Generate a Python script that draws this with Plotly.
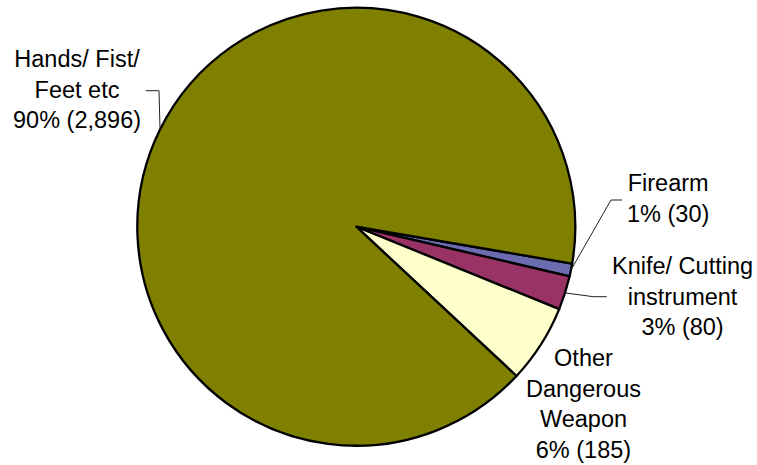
import math
import plotly.graph_objects as go

# ---- data ----
categories = ["Firearm", "Knife/ Cutting instrument", "Other Dangerous Weapon", "Hands/ Fist/ Feet etc"]
values = [30, 80, 185, 2896]
label_texts = [
    "Firearm<br>1% (30)",
    "Knife/ Cutting<br>instrument<br>3% (80)",
    "Other<br>Dangerous<br>Weapon<br>6% (185)",
    "Hands/ Fist/<br>Feet etc<br>90% (2,896)",
]
colors = ["#6B6BB0", "#993366", "#FFFFCC", "#808000"]

W, H = 757, 465
CX, CY, R = 356.3, 226.7, 219.0
ROT = 99.7  # degrees clockwise from 12 o'clock where first slice starts

def px(x, y):
    return x / W, 1 - y / H

fig = go.Figure(go.Pie(
    labels=categories,
    values=values,
    sort=False,
    direction="clockwise",
    rotation=ROT,
    marker=dict(colors=colors, line=dict(color="black", width=2.3)),
    textinfo="none",
    hoverinfo="label+value+percent",
    showlegend=False,
    domain=dict(x=[(CX - R) / W, (CX + R) / W], y=[1 - (CY + R) / H, 1 - (CY - R) / H]),
))

# label positions (pixel centers) and leader elbows
label_pos = [(667.5, 198), (682.5, 296.5), (583, 403.5), (77, 89.5)]
leaders = {0: [(611, 200), (622, 200)], 1: [(593.3, 296.7), (606.7, 296.7)], 3: [(159, 90.7), (145.7, 90.7)]}

total = sum(values)
cum = 0
mids = []
for v in values:
    a0 = ROT + 360 * cum / total
    a1 = ROT + 360 * (cum + v) / total
    mids.append((a0 + a1) / 2)
    cum += v

annotations = []
for i, txt in enumerate(label_texts):
    x, y = px(*label_pos[i])
    annotations.append(dict(x=x, y=y, xref="paper", yref="paper", text=txt, showarrow=False,
                            xanchor="center", yanchor="middle", align="center",
                            font=dict(family="Liberation Sans, Arial", size=23.5, color="black")))

shapes = []
for i, pts in leaders.items():
    ang = math.radians(mids[i])
    sx = CX + R * math.sin(ang)
    sy = CY - R * math.cos(ang)
    allp = [(sx, sy)] + pts
    path = "M " + " L ".join(f"{px(a, b)[0]} {px(a, b)[1]}" for a, b in allp)
    shapes.append(dict(type="path", path=path, xref="paper", yref="paper",
                       line=dict(color="#222222", width=1)))

fig.update_layout(
    width=W, height=H,
    margin=dict(l=0, r=0, t=0, b=0),
    paper_bgcolor="white", plot_bgcolor="white",
    annotations=annotations, shapes=shapes,
)

fig.write_html("out.html")
